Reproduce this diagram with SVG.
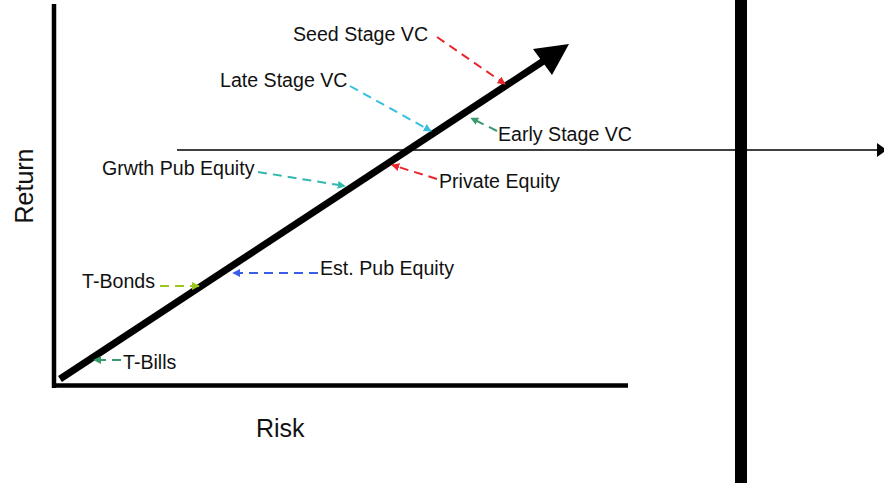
<svg xmlns="http://www.w3.org/2000/svg" width="884" height="483" viewBox="0 0 884 483">
  <style>
    .lbl { font-family: "Liberation Sans", Arial, sans-serif; font-size: 19.6px; fill: #111; }
    .axis-title { font-family: "Liberation Sans", Arial, sans-serif; font-size: 25px; fill: #111; }
    .lead { fill: none; stroke-width: 2; stroke-dasharray: 9 6; }
  </style>
  <defs>
    <marker id="tip-red" viewBox="0 0 10 10" refX="9" refY="5" markerWidth="4" markerHeight="4" orient="auto"><path d="M0,0 L10,5 L0,10 z" fill="#e8262b"/></marker>
    <marker id="tip-cyan" viewBox="0 0 10 10" refX="9" refY="5" markerWidth="4" markerHeight="4" orient="auto"><path d="M0,0 L10,5 L0,10 z" fill="#36bfe0"/></marker>
    <marker id="tip-teal" viewBox="0 0 10 10" refX="9" refY="5" markerWidth="4" markerHeight="4" orient="auto"><path d="M0,0 L10,5 L0,10 z" fill="#33b8b0"/></marker>
    <marker id="tip-green" viewBox="0 0 10 10" refX="9" refY="5" markerWidth="4" markerHeight="4" orient="auto"><path d="M0,0 L10,5 L0,10 z" fill="#3a9a70"/></marker>
    <marker id="tip-blue" viewBox="0 0 10 10" refX="9" refY="5" markerWidth="4" markerHeight="4" orient="auto"><path d="M0,0 L10,5 L0,10 z" fill="#3a5ee8"/></marker>
    <marker id="tip-lime" viewBox="0 0 10 10" refX="9" refY="5" markerWidth="4" markerHeight="4" orient="auto"><path d="M0,0 L10,5 L0,10 z" fill="#9cc81e"/></marker>
  </defs>

  <rect width="884" height="483" fill="#fff"/>

  <!-- chart frame -->
  <g id="axes">
    <line x1="54" y1="4" x2="54" y2="388" stroke="#000" stroke-width="4.5"/>
    <line x1="52" y1="385.5" x2="628" y2="385.5" stroke="#000" stroke-width="4.5"/>
    <text class="axis-title" x="256" y="437">Risk</text>
    <text class="axis-title" transform="translate(33,186) rotate(-90)" text-anchor="middle">Return</text>
  </g>

  <!-- divider bar and threshold line -->
  <g id="divider">
    <rect x="735" y="0" width="12" height="483" fill="#000"/>
  </g>
  <g id="threshold">
    <line x1="177" y1="150" x2="878" y2="150" stroke="#000" stroke-width="1.5"/>
    <path d="M877,143 L887,150 L877,157 z" fill="#000"/>
  </g>

  <!-- risk/return line -->
  <g id="trend">
    <line x1="60" y1="379" x2="545" y2="60" stroke="#000" stroke-width="7"/>
    <path d="M569,44 L533,49 L552,75 z" fill="#000"/>
  </g>

  <!-- asset class labels -->
  <g id="seed-vc"><text class="lbl" x="293" y="41">Seed Stage VC</text></g>
  <g id="late-vc"><text class="lbl" x="220" y="87">Late Stage VC</text></g>
  <g id="early-vc"><text class="lbl" x="498" y="141">Early Stage VC</text></g>
  <g id="private-equity"><text class="lbl" x="439" y="188">Private Equity</text></g>
  <g id="growth-pub-equity"><text class="lbl" x="102" y="175">Grwth Pub Equity</text></g>
  <g id="est-pub-equity"><text class="lbl" x="320" y="275">Est. Pub Equity</text></g>
  <g id="t-bonds"><text class="lbl" x="82" y="288">T-Bonds</text></g>
  <g id="t-bills"><text class="lbl" x="123" y="369">T-Bills</text></g>

  <!-- leader arrows -->
  <g id="connectors">
    <line class="lead" x1="437" y1="37" x2="505" y2="84" stroke="#e8262b" marker-end="url(#tip-red)"/>
    <line class="lead" x1="350" y1="86" x2="431" y2="131" stroke="#36bfe0" marker-end="url(#tip-cyan)"/>
    <line class="lead" x1="497" y1="131" x2="471" y2="118" stroke="#3a9a70" marker-end="url(#tip-green)"/>
    <line class="lead" x1="437" y1="179" x2="392" y2="165" stroke="#e8262b" marker-end="url(#tip-red)"/>
    <line class="lead" x1="258" y1="172" x2="345" y2="186" stroke="#33b8b0" marker-end="url(#tip-teal)"/>
    <line class="lead" x1="318" y1="273" x2="233" y2="273" stroke="#3a5ee8" marker-end="url(#tip-blue)"/>
    <line class="lead" x1="160" y1="286" x2="199" y2="286" stroke="#9cc81e" marker-end="url(#tip-lime)"/>
    <line class="lead" x1="121" y1="360" x2="94" y2="360" stroke="#3a9a70" marker-end="url(#tip-green)"/>
  </g>
</svg>
